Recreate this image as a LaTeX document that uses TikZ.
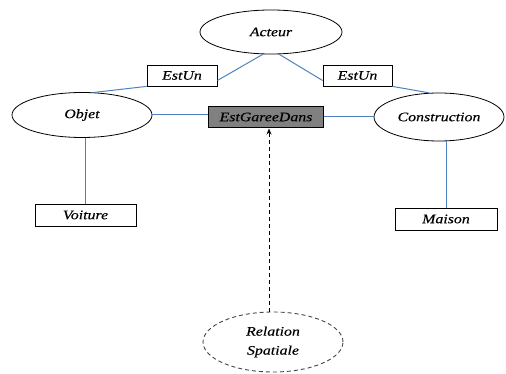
\documentclass[tikz,border=0pt]{standalone}
\usepackage{fontspec}
\setmainfont{Liberation Serif}[FakeStretch=1.22,FakeBold=0.3]
\usetikzlibrary{shapes.geometric,arrows.meta}
\begin{document}
\begin{tikzpicture}[x=1pt,y=-1pt,
  lbl/.style={font=\itshape\fontsize{13}{19}\selectfont},
  ell/.style={ellipse,draw=black,line width=0.8pt,inner sep=0pt,lbl},
  rbox/.style={rectangle,draw=black,line width=0.8pt,inner sep=0pt,lbl},
  conn/.style={draw={rgb,255:red,79;green,129;blue,189},line width=1pt}]
\useasboundingbox (0,0) rectangle (506,374);
\node[ell,minimum width=142,minimum height=44] (acteur) at (271,32) {Acteur};
\node[ell,minimum width=140,minimum height=45] (objet) at (82,115) {Objet};
\node[ell,minimum width=130,minimum height=48] (constr) at (439,117) {Construction};
\node[rbox,minimum width=70,minimum height=21] (estun1) at (182,75.5) {EstUn};
\node[rbox,minimum width=69,minimum height=21] (estun2) at (357.5,75.5) {EstUn};
\node[rbox,fill={rgb,255:red,128;green,128;blue,128},minimum width=115,minimum height=21] (garee) at (266,117) {EstGareeDans};
\node[rbox,minimum width=101,minimum height=22] (voiture) at (85.5,215) {Voiture};
\node[rbox,minimum width=102,minimum height=22] (maison) at (446,219) {Maison};
\node[ellipse,draw={rgb,255:red,70;green,70;blue,70},dash pattern=on 4pt off 3pt,line width=0.9pt,inner sep=0pt,lbl,align=center,minimum width=140,minimum height=60] (rel) at (273,342) {Relation\\Spatiale};
\draw[conn] ([yshift=-5]estun1.east) -- (acteur.250);
\draw[conn] (acteur.290) -- ([yshift=-5]estun2.west);
\draw[conn] (estun1.south west) -- (objet.62);
\draw[conn] (estun2.south east) -- (constr.112);
\draw[conn] (objet.east) -- (objet.east -| garee.west);
\draw[conn] (constr.west) -- (constr.west -| garee.east);
\coordinate (vtop) at (voiture.north);
\draw[conn] (vtop |- objet.south) -- (vtop);
\coordinate (mtop) at (maison.north);
\draw[conn] (mtop |- constr.south) -- (mtop);
\coordinate (gb) at (269,128.5);
\draw[dash pattern=on 4pt off 3pt,line width=1pt,-{Stealth[length=6pt,width=5pt]}] (gb |- rel.north) -- (gb);
\end{tikzpicture}
\end{document}
